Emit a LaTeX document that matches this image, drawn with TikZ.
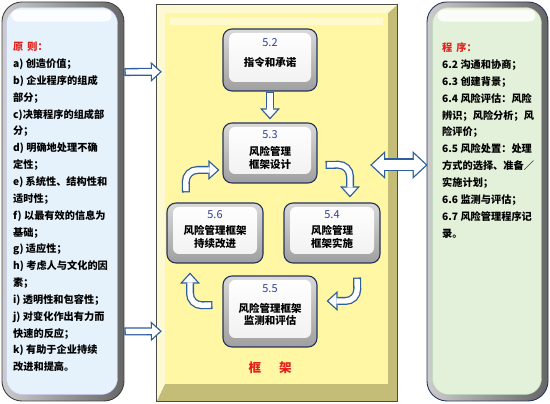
\documentclass[tikz,border=0pt]{standalone}
\usepackage{fontspec}
\newfontfamily\cjk{Noto Sans CJK SC}
\usetikzlibrary{positioning, calc, arrows.meta}

\definecolor{arrowblue}{HTML}{2F5E9C}
\definecolor{numblue}{HTML}{2F3F9A}
\definecolor{boxline}{HTML}{24335C}
\definecolor{frameyellow}{HTML}{FFF7A4}
\definecolor{framelight}{HTML}{FDF9D2}
\definecolor{frameolive}{HTML}{C4BD78}
\definecolor{panelblue}{HTML}{E5F1FB}
\definecolor{panelgreen}{HTML}{E3F0DA}
\definecolor{headred}{HTML}{E3211C}

\tikzset{
	panelshell/.style={draw=#1, line width=0.9pt, rounded corners=20pt,
			left color=gray!40, right color=black!60, inner sep=0pt}
}
\tikzset{
	stagebox/.style={draw=boxline, line width=1.1pt, rounded corners=9pt,
			minimum width=94pt, align=center, inner sep=0pt,
			top color=gray!30, bottom color=gray!75,
			font=\cjk\bfseries\fontsize{10.5}{12.5}\selectfont,
			path picture={\shade[top color=white, bottom color=gray!12, rounded corners=6pt]
					($(path picture bounding box.south west)+(6,9)$) rectangle
					($(path picture bounding box.north east)+(-6,-4)$);}},
	numtext/.style={font=\cjk\fontsize{11}{12}\selectfont\color{numblue}, inner sep=0pt},
	bodytext/.style={font=\cjk\bfseries\fontsize{10.2}{12}\selectfont, inner sep=0pt},
	headtext/.style={font=\cjk\bfseries\fontsize{10.2}{12}\selectfont\color{headred}, inner sep=0pt}
}
\tikzset{
	hollowout/.style={line width=8pt, draw=arrowblue,
			-{Triangle[length=11pt, width=20pt, line width=0pt]}},
	hollowin/.style={line width=5.4pt, draw=white, shorten <=1.3pt, shorten >=1.93pt,
			-{Triangle[length=7.8pt, width=14.2pt, line width=0pt]}},
	bothout/.style={line width=13pt, draw=arrowblue,
			{Triangle[length=15pt, width=28pt, line width=0pt]}-{Triangle[length=15pt, width=28pt, line width=0pt]}},
	bothin/.style={line width=10.4pt, draw=white, shorten <=1.9pt, shorten >=1.9pt,
			{Triangle[length=11.8pt, width=22pt, line width=0pt]}-{Triangle[length=11.8pt, width=22pt, line width=0pt]}}
}
\newcommand{\hollowarrow}[1]{\draw[hollowout] #1; \draw[hollowin] #1;}
\newcommand{\hollowboth}[1]{\draw[bothout] #1; \draw[bothin] #1;}

\begin{document}
\begin{tikzpicture}[x=1pt, y=1pt]

	\useasboundingbox (0,0) rectangle (550,404);
	\fill[white] (0,0) rectangle (550,404);

	% left panel
	\node[panelshell=black!75, minimum width=122pt, minimum height=399pt] (yuanze) at (63,202.5) {};
	\draw[blue!20, fill=panelblue, rounded corners=16pt]
	($(yuanze.south west)+(5,7)$) rectangle ($(yuanze.north east)+(-7,-6)$);
	\fill[white, opacity=0.9, rounded corners=6pt]
	($(yuanze.north west)+(10,-20)$) rectangle ($(yuanze.north east)+(-13,-8)$);

	% right panel
	\node[panelshell=boxline, minimum width=121pt, minimum height=399pt] (chengxu) at (487.5,202.5) {};
	\draw[green!30!gray!40, fill=panelgreen, rounded corners=16pt]
	($(chengxu.south west)+(6,7)$) rectangle ($(chengxu.north east)+(-7,-6)$);
	\fill[white, opacity=0.8, rounded corners=6pt]
	($(chengxu.north west)+(11,-20)$) rectangle ($(chengxu.north east)+(-13,-8)$);

	% frame
	\node[fill=frameolive, minimum width=240pt, minimum height=396pt, inner sep=0pt] (kuangjia) at (277,201) {};
	\fill[framelight] (kuangjia.north west) -- (kuangjia.north east) -- ++(-9,-8)
	-- ($(kuangjia.north west)+(8,-8)$) -- ($(kuangjia.south west)+(8,17)$)
	-- (kuangjia.south west) -- cycle;
	\fill[frameyellow] ($(kuangjia.south west)+(8,17)$) rectangle ($(kuangjia.north east)+(-9,-8)$);
	\fill[white, opacity=0.45] ($(kuangjia.north west)+(13,-20)$) rectangle ($(kuangjia.north east)+(-14,-13)$);
	\draw[black!70, line width=0.8pt] (kuangjia.north west) rectangle (kuangjia.south east);

	% stages
	\node[stagebox, minimum height=62pt] (b52) at (270,344) {\rule{0pt}{15pt}指令和承诺};
	\node[stagebox, minimum height=60pt] (b53) at (270,251) {\rule{0pt}{19pt}风险管理\\框架设计};
	\node[stagebox, minimum width=96pt, minimum height=60pt] (b56) at (215,171) {\rule{0pt}{17pt}风险管理框架\\持续改进};
	\node[stagebox, minimum width=96pt, minimum height=60pt] (b54) at (332,171) {\rule{0pt}{17pt}风险管理\\框架实施};
	\node[stagebox, minimum height=71pt] (b55) at (270,92.5) {\rule{0pt}{15pt}风险管理框架\\监测和评估};

	\node[numtext] (n52) at ($(b52.north)+(0,-14)$) {5.2};
	\node[numtext] (n53) at ($(b53.north)+(0,-12)$) {5.3};
	\node[numtext] (n56) at ($(b56.north)+(0,-12)$) {5.6};
	\node[numtext] (n54) at ($(b54.north)+(0,-12)$) {5.4};
	\node[numtext] (n55) at ($(b55.north)+(0,-13)$) {5.5};

	\node[font=\cjk\bfseries\fontsize{12.5}{14}\selectfont, text=headred] (kjlabel) at (270,36) {框\hspace{18pt}架};

	% cycle arrows
	\hollowarrow{(b52.south) -- ($(b53.north)+(0,3)$)}
	\hollowarrow{[rounded corners=12pt] ($(b53.east)+(8,-12)$) -- ($(b54.north)+(18,38)$) -- ($(b54.north)+(18,5)$)}
	\hollowarrow{[rounded corners=12pt] ($(b54.south)+(25,-14)$) -- ($(b55.east)+(40,10.5)$) -- ($(b55.east)+(9,10.5)$)}
	\hollowarrow{[rounded corners=12pt] ($(b55.west)+(-10,6.5)$) -- ($(b56.south)+(-25,-42)$) -- ($(b56.south)+(-25,-9)$)}
	\hollowarrow{[rounded corners=12pt] ($(b56.north)+(-29,10)$) -- ($(b53.west)+(-37,-17)$) -- ($(b53.west)+(-3,-17)$)}

	% panel arrows
	\hollowarrow{($(yuanze.north east)+(0,-70.5)$) -- ($(kuangjia.north west)+(5,-67)$)}
	\hollowarrow{($(yuanze.south east)+(0,70)$) -- ($(kuangjia.south west)+(5,70)$)}
	\hollowboth{($(kuangjia.east)+(-27,38)$) -- ($(chengxu.west)+(1,36.5)$)}

	% principles
	\node[headtext, anchor=base west] (yzhead) at (13,353.2) {原\hspace{0.4em}则：};
	\foreach \t [count=\i] in {a) 创造价值；, b) 企业程序的组成, 部分；, c)决策程序的组成部, 分；,
			d) 明确地处理不确, 定性；, e) 系统性、结构性和, 适时性；, f) 以最有效的信息为, 基础；,
			g) 适应性；, h) 考虑人与文化的因, 素；, i) 透明性和包容性；, j) 对变化作出有力而,
			快速的反应；, k) 有助于企业持续, 改进和提高。}
	\node[bodytext, anchor=base west] (yz\i) at (13,{353.2-16.84*\i}) {\t};

	% procedures
	\node[headtext, anchor=base west] (cxhead) at (442,352.2) {程\hspace{0.4em}序：};
	\foreach \t [count=\i] in {6.2 沟通和协商；, 6.3 创建背景；, 6.4 风险评估：风险, 辨识；风险分析；风,
			险评价；, 6.5 风险处置：处理, 方式的选择、准备／, 实施计划；, 6.6 监测与评估；,
			6.7 风险管理程序记, 录。}
	\node[bodytext, anchor=base west] (cx\i) at (442,{352.2-16.84*\i}) {\t};

\end{tikzpicture}
\end{document}
